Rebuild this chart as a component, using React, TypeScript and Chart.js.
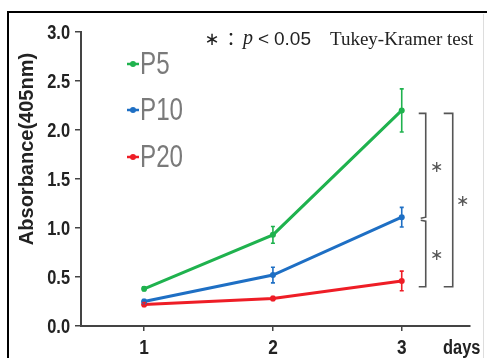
import React, { useEffect, useRef } from "react";
import { Chart, registerables } from "chart.js";

Chart.register(...registerables);

const days = [1, 2, 3];
const yTicks = [0, 0.5, 1.0, 1.5, 2.0, 2.5, 3.0];
const seriesNames = ["P5", "P10", "P20"];
const p5 = [0.38, 0.93, 2.2];
const p5Err = [0.02, 0.085, 0.22];
const p10 = [0.25, 0.52, 1.11];
const p10Err = [0.02, 0.08, 0.1];
const p20 = [0.22, 0.28, 0.46];
const p20Err = [0.02, 0.02, 0.1];
const colors = ["#1fb24e", "#1e6fc4", "#ee1d26"];
const bracketLevels = [2.17, 1.09, 0.4];

const SANS = '"Liberation Sans", Arial, sans-serif';

function narrowText(ctx: any, text: string, x: number, y: number, font: string, align: string, sx: number) {
  ctx.save();
  ctx.translate(x, y);
  ctx.scale(sx, 1);
  ctx.font = font;
  ctx.textAlign = align;
  ctx.textBaseline = "middle";
  ctx.fillText(text, 0, 0);
  ctx.restore();
}

export default function App() {
  const ref = useRef<HTMLCanvasElement>(null);
  useEffect(() => {
    const values = [p5, p10, p20];
    const errs = [p5Err, p10Err, p20Err];
    const overlay = {
      id: "overlay",
      afterDatasetsDraw(chart: any) {
        const ctx = chart.ctx;
        const xs = chart.scales.x;
        const ys = chart.scales.y;
        ctx.save();
        values.forEach((vals, si) => {
          ctx.strokeStyle = colors[si];
          ctx.lineWidth = 1.6;
          vals.forEach((v, i) => {
            const e = errs[si][i];
            const px = xs.getPixelForValue(days[i]);
            ctx.beginPath();
            ctx.moveTo(px, ys.getPixelForValue(v - e));
            ctx.lineTo(px, ys.getPixelForValue(v + e));
            ctx.stroke();
            ctx.beginPath();
            ctx.moveTo(px - 2, ys.getPixelForValue(v - e));
            ctx.lineTo(px + 2, ys.getPixelForValue(v - e));
            ctx.moveTo(px - 2, ys.getPixelForValue(v + e));
            ctx.lineTo(px + 2, ys.getPixelForValue(v + e));
            ctx.stroke();
          });
        });
        ctx.restore();
      },
      afterDraw(chart: any) {
        const ctx = chart.ctx;
        const xs = chart.scales.x;
        const ys = chart.scales.y;
        ctx.save();
        // frame
        ctx.strokeStyle = "#000";
        ctx.lineWidth = 2;
        ctx.beginPath();
        ctx.moveTo(8, 358);
        ctx.lineTo(8, 12);
        ctx.lineTo(487, 12);
        ctx.stroke();
        ctx.strokeStyle = "#ddd";
        ctx.lineWidth = 1;
        ctx.beginPath();
        ctx.moveTo(483.5, 14);
        ctx.lineTo(483.5, 358);
        ctx.stroke();

        // tick labels (narrow)
        ctx.fillStyle = "#222";
        ys.ticks.forEach((t: any) => {
          narrowText(ctx, Number(t.value).toFixed(1), 70, ys.getPixelForValue(t.value) + 1, "bold 20px " + SANS, "right", 0.82);
        });
        xs.ticks.forEach((t: any) => {
          narrowText(ctx, String(t.value), xs.getPixelForValue(t.value), 348, "bold 21px " + SANS, "center", 0.82);
        });
        narrowText(ctx, "days", 443, 348, "bold 20px " + SANS, "left", 0.82);

        // y title
        ctx.save();
        ctx.translate(27, 149);
        ctx.rotate(-Math.PI / 2);
        ctx.font = "bold 20px " + SANS;
        ctx.fillStyle = "#222";
        ctx.textAlign = "center";
        ctx.textBaseline = "middle";
        ctx.fillText("Absorbance(405nm)", 0, 0);
        ctx.restore();

        // top annotation
        ctx.fillStyle = "#222";
        ctx.textBaseline = "middle";
        ctx.textAlign = "center";
        ctx.font = '18px "DejaVu Sans", sans-serif';
        ctx.fillText("∗", 212, 40);
        ctx.font = '18px "Noto Sans CJK JP", sans-serif';
        ctx.fillText("：", 231, 39);
        ctx.textAlign = "left";
        ctx.font = 'italic 20px "Liberation Serif", serif';
        ctx.fillText("p", 243, 39);
        ctx.font = "19px " + SANS;
        ctx.fillText("<", 258, 40);
        ctx.fillText("0.05", 274, 40);
        ctx.font = '19px "Liberation Serif", serif';
        ctx.fillText("Tukey-Kramer test", 330, 40);

        // legend
        const legY = [64, 110, 157];
        seriesNames.forEach((n, i) => {
          ctx.strokeStyle = colors[i];
          ctx.fillStyle = colors[i];
          ctx.lineWidth = 2.5;
          ctx.beginPath();
          ctx.moveTo(127, legY[i]);
          ctx.lineTo(139, legY[i]);
          ctx.stroke();
          ctx.beginPath();
          ctx.arc(133, legY[i], 3, 0, Math.PI * 2);
          ctx.fill();
          ctx.fillStyle = "#7a7a7a";
          narrowText(ctx, n, 140, legY[i] + 1, "31px " + SANS, "left", 0.78);
        });

        // brackets
        const x3 = xs.getPixelForValue(days[2]);
        const yTop = ys.getPixelForValue(bracketLevels[0]);
        const yMid = ys.getPixelForValue(bracketLevels[1]);
        const yBot = ys.getPixelForValue(bracketLevels[2]);
        const bi = x3 + 24;
        const bo = x3 + 51;
        ctx.strokeStyle = "#555";
        ctx.lineWidth = 1.6;
        ctx.beginPath();
        ctx.moveTo(bi - 7, yTop);
        ctx.lineTo(bi, yTop);
        ctx.lineTo(bi, yMid - 2);
        ctx.lineTo(bi - 5, yMid - 1);
        ctx.moveTo(bi - 5, yMid + 1);
        ctx.lineTo(bi, yMid + 2);
        ctx.lineTo(bi, yBot);
        ctx.lineTo(bi - 7, yBot);
        ctx.stroke();
        ctx.beginPath();
        ctx.moveTo(bo - 9, yTop);
        ctx.lineTo(bo, yTop);
        ctx.lineTo(bo, yBot);
        ctx.lineTo(bo - 9, yBot);
        ctx.stroke();
        ctx.fillStyle = "#555";
        ctx.font = '16px "DejaVu Sans", sans-serif';
        ctx.textAlign = "center";
        ctx.textBaseline = "middle";
        ctx.fillText("∗", bi + 11, (yTop + yMid) / 2 + 2);
        ctx.fillText("∗", bi + 11, (yMid + yBot) / 2 + 3);
        ctx.fillText("∗", bo + 10, (yTop + yBot) / 2 + 2);
        ctx.restore();
      },
    };

    const chart = new Chart(ref.current!, {
      type: "line",
      data: {
        datasets: values.map((vals, si) => ({
          label: seriesNames[si],
          data: vals.map((v, i) => ({ x: days[i], y: v })),
          borderColor: colors[si],
          backgroundColor: colors[si],
          borderWidth: 3,
          pointRadius: 3,
          pointBorderWidth: 0,
          tension: 0,
        })),
      },
      options: {
        animation: false,
        responsive: false,
        layout: { padding: { left: 0, top: 32, right: 18, bottom: 0 } },
        plugins: { legend: { display: false }, tooltip: { enabled: false } },
        scales: {
          x: {
            type: "linear",
            min: 0.51,
            max: 3.53,
            afterBuildTicks: (s: any) => {
              s.ticks = days.map((d) => ({ value: d }));
            },
            afterFit: (s: any) => {
              s.height = 32;
            },
            grid: { display: true, drawOnChartArea: false, drawTicks: true, tickLength: 5, color: "#444", lineWidth: 1.5 },
            border: { display: true, color: "#444", width: 2 },
            ticks: { display: false },
          },
          y: {
            min: 0,
            max: 3,
            afterBuildTicks: (s: any) => {
              s.ticks = yTicks.map((d) => ({ value: d }));
            },
            afterFit: (s: any) => {
              s.width = 81;
            },
            grid: { display: true, drawOnChartArea: false, drawTicks: true, tickLength: 6, color: "#444", lineWidth: 1.5 },
            border: { display: true, color: "#444", width: 2 },
            ticks: { display: false },
          },
        },
      },
      plugins: [overlay],
    });
    return () => chart.destroy();
  }, []);

  return (
    <div style={{ position: "fixed", left: 0, top: 0, width: 488, height: 358, background: "#fff" }}>
      <canvas ref={ref} width={488} height={358} style={{ display: "block" }} />
    </div>
  );
}
